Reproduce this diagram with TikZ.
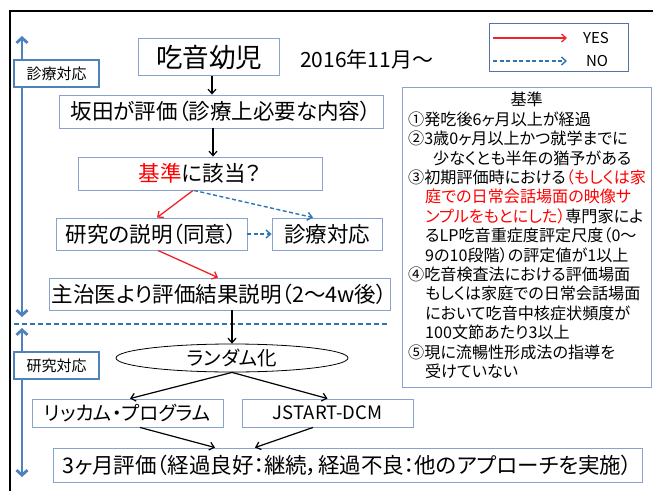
\documentclass[tikz,border=0pt]{standalone}
\usepackage{fontspec}
\setmainfont{Noto Sans CJK JP}[RawFeature=+palt]
\usetikzlibrary{arrows.meta,shapes.geometric,calc}
\definecolor{boxblue}{RGB}{135,163,206}
\definecolor{legblue}{RGB}{85,115,165}
\definecolor{steel}{RGB}{79,129,189}
\definecolor{arrred}{RGB}{240,35,40}
\definecolor{txtred}{RGB}{255,0,0}
\definecolor{noblue}{RGB}{46,117,182}
\newcommand\fsz[1]{\fontsize{#1}{#1}\selectfont}
\begin{document}
\begin{tikzpicture}[x=1pt,y=-1pt,
  fbox/.style={draw=boxblue,line width=0.9pt,fill=white,inner sep=0pt,anchor=center,text=black},
  lbox/.style={draw=steel,line width=2.4pt,fill=white,inner sep=0pt,anchor=center,minimum width=85pt,minimum height=27pt,font=\fsz{15}},
  blk/.style={draw=black,line width=1.2pt,-{Straight Barb[length=4.5pt,width=8pt]}},
  yesarr/.style={draw=arrred,line width=1.3pt,-{Straight Barb[length=4.5pt,width=8pt]}},
  noarr/.style={draw=noblue,line width=1.4pt,dash pattern=on 4pt off 2.5pt,-{Straight Barb[length=4.5pt,width=8pt]}},
  varr/.style={draw=steel,line width=2.8pt,{Straight Barb[length=5pt,width=11pt]}-{Straight Barb[length=5pt,width=11pt]}}
]
\useasboundingbox (0,0) rectangle (653,490);
\fill[white] (0,0) rectangle (653,490);

% frame
\coordinate (frBL) at (10,491);
\coordinate (frTL) at (10,11);
\coordinate (frTR) at (654,11);
\draw[line width=2.5pt] (frBL) -- (frTL) -- (frTR);

% side arrows
\coordinate (v1t) at (22,36);
\coordinate (v1b) at (22,317);
\coordinate (v2t) at (22,328);
\coordinate (v2b) at (22,477);
\draw[varr] (v1b) -- (v1t);
\draw[varr] (v2b) -- (v2t);
\node[lbox] (lab1) at (56.5,73.5) {診療対応};
\node[lbox] (lab2) at (56.5,365.5) {研究対応};

% separator
\coordinate (sepL) at (14,324);
\coordinate (sepR) at (387,324);
\draw[draw=noblue,line width=1.3pt,dash pattern=on 5pt off 3pt] (sepL) -- (sepR);

% legend
\node[fbox,draw=legblue,minimum width=139pt,minimum height=48pt] (legend) at (558.5,47) {};
\coordinate (ys) at (493,38);
\coordinate (ye) at (567,38);
\coordinate (ns) at (493,61);
\coordinate (ne) at (567,61);
\draw[yesarr] (ys) -- (ye);
\draw[noarr] (ns) -- (ne);
\node[font=\fsz{15}] (yes) at (596,38) {YES};
\node[font=\fsz{15}] (no) at (597,61) {NO};

% flow boxes
\node[fbox,minimum width=141pt,minimum height=37pt,font=\fsz{26.5}] (infant) at (209,57) {吃音幼児};
\node[font=\fsz{21},anchor=west,inner sep=0pt] (date) at (300,59) {2016年11月～};
\node[fbox,minimum width=324pt,minimum height=33pt,font=\fsz{21.5}] (sakata) at (221,111.5) {坂田が評価（診療上必要な内容）};
\node[fbox,minimum width=244pt,minimum height=33pt,font=\fsz{21.5}] (kijun) at (200,173.5) {{\color{txtred}基準}に該当？};
\node[fbox,minimum width=191pt,minimum height=32pt,font=\fsz{21.5}] (kenkyu) at (151.5,234) {研究の説明（同意）};
\node[fbox,minimum width=110pt,minimum height=32pt,font=\fsz{21.5}] (shinryo) at (327,234) {診療対応};
\node[fbox,minimum width=341pt,minimum height=32pt,font=\fsz{21.5}] (shujii) at (219.5,294) {主治医より評価結果説明（2～4w後）};
\node[draw=black,line width=0.8pt,ellipse,inner sep=0pt,minimum width=232pt,minimum height=28pt,font=\fsz{19.5}] (random) at (232,358) {ランダム化};
\node[fbox,minimum width=191pt,minimum height=28pt,font=\fsz{19.5}] (rikkam) at (127.5,413) {リッカム・プログラム};
\node[fbox,minimum width=171pt,minimum height=28pt,font=\fsz{18.5}] (jstart) at (327.5,413) {JSTART-DCM};
\node[fbox,minimum width=589pt,minimum height=34pt,font=\fsz{21.5}] (three) at (347.5,465) {3ヶ月評価（経過良好：継続，経過不良：他のアプローチを実施）};

% criteria box
\node[fbox,minimum width=249pt,minimum height=300pt] (crit) at (526.5,237) {};
\node[anchor=north west,inner sep=0pt,align=left,font=\fontsize{16.1}{19.4}\selectfont] (crittext) at (408,92) {%
\makebox[237pt]{基準}\\
①発吃後6ヶ月以上が経過\\
②3歳0ヶ月以上かつ就学までに\\
\hspace*{25pt}少なくとも半年の猶予がある\\
③初期評価時における{\color{txtred}（もしくは家}\\
\hspace*{17pt}{\color{txtred}庭での日常会話場面の映像サ}\\
\hspace*{17pt}{\color{txtred}ンプルをもとにした）}専門家によ\\
\hspace*{17pt}るLP吃音重症度評定尺度（0～\\
\hspace*{17pt}9の10段階）の評定値が1以上\\
④吃音検査法における評価場面\\
\hspace*{17pt}もしくは家庭での日常会話場面\\
\hspace*{17pt}において吃音中核症状頻度が\\
\hspace*{17pt}100文節あたり3以上\\
⑤現に流暢性形成法の指導を\\
\hspace*{17pt}受けていない};

% connectors
\draw[blk] ([xshift=3pt]infant.south) -- ([xshift=3pt]infant.south |- sakata.north);
\draw[blk] ([xshift=-8pt]sakata.south) -- ([xshift=-8pt]sakata.south |- kijun.north);
\draw[yesarr] ([xshift=-7pt]kijun.south) -- ([xshift=5.5pt]kenkyu.north);
\draw[noarr] ([xshift=-6pt]kijun.south) -- ([xshift=-14pt]shinryo.north);
\draw[noarr] (kenkyu.east) -- (shinryo.west);
\draw[yesarr] ([xshift=6.5pt]kenkyu.south) -- ([xshift=-1.5pt]shujii.north);
\draw[blk] (random.north |- shujii.south) -- (random.north);
\draw[blk] (random.south) -- ([xshift=2.5pt]rikkam.north);
\draw[blk] (random.south) -- (jstart.north);
\draw[blk] ([xshift=12.5pt]rikkam.south) -- ([xshift=-132.5pt]three.north);
\draw[blk] ([xshift=-14.5pt]jstart.south) -- ([xshift=-92.5pt]three.north);
\end{tikzpicture}
\end{document}
